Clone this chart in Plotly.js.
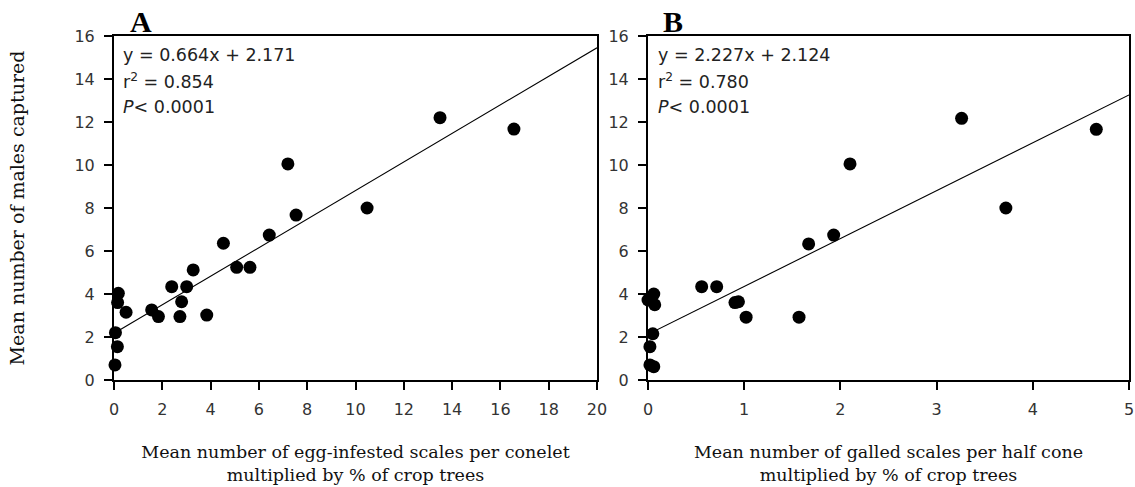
<!DOCTYPE html>
<html>
<head>
<meta charset="utf-8">
<script src="https://cdn.plot.ly/plotly-3.0.1.min.js"></script>
<style>html,body{margin:0;padding:0;background:#fff;}#chart{width:1135px;height:487px;}</style>
</head>
<body>
<div id="chart"></div>
<script>
// Panel A: egg-infested scales per conelet x % crop trees vs males captured
const xA = [0.04, 0.14, 0.06, 0.18, 0.15, 0.5, 1.56, 1.84, 2.39, 2.73, 2.8, 3.01, 3.28, 3.84, 4.53, 5.08, 5.63, 6.43, 7.2, 7.54, 10.48, 13.5, 16.56];
const yA = [0.7, 1.55, 2.2, 4.03, 3.6, 3.15, 3.26, 2.95, 4.34, 2.95, 3.64, 4.34, 5.12, 3.02, 6.36, 5.24, 5.24, 6.74, 10.05, 7.67, 8.0, 12.2, 11.67];
// Panel B: galled scales per half cone x % crop trees vs males captured
const xB = [0.02, 0.06, 0.02, 0.05, 0.07, 0.0, 0.06, 0.558, 0.714, 0.904, 0.94, 1.02, 1.57, 1.67, 1.93, 2.1, 3.26, 3.72, 4.66];
const yB = [0.7, 0.62, 1.55, 2.15, 3.5, 3.72, 4.0, 4.34, 4.34, 3.6, 3.64, 2.92, 2.92, 6.33, 6.74, 10.05, 12.17, 8.0, 11.66];
// Regression fits as printed on the chart
const slopes = [0.664, 2.227];
const intercepts = [2.171, 2.124];
const eqTexts = ["y = 0.664x + 2.171", "y = 2.227x + 2.124"];
const r2Texts = ["r<sup>2</sup> = 0.854", "r<sup>2</sup> = 0.780"];
const pText = "<i>P</i>&lt; 0.0001";
const panelLabels = ["A", "B"];
const xRanges = [[0, 20], [0, 5]];
const xTickVals = [[0, 2, 4, 6, 8, 10, 12, 14, 16, 18, 20], [0, 1, 2, 3, 4, 5]];
const yTickVals = [0, 2, 4, 6, 8, 10, 12, 14, 16];
const xTitles = ["Mean number of egg-infested scales per conelet<br>multiplied by % of crop trees",
                 "Mean number of galled scales per half cone<br>multiplied by % of crop trees"];
const yTitle = "Mean number of males captured";

const W = 1135, H = 487;
const px = v => v / W, py = v => 1 - v / H;

function fitLine(xs, k) {
  const x0 = Math.min(...xs), x1 = xRanges[k][1];
  return {x: [x0, x1], y: [slopes[k] * x0 + intercepts[k], slopes[k] * x1 + intercepts[k]]};
}
const lA = fitLine(xA, 0), lB = fitLine(xB, 1);

const mk = {color: '#000', size: 13, line: {width: 0}};
const traces = [
  {x: xA, y: yA, type: 'scatter', mode: 'markers', marker: mk, cliponaxis: false, xaxis: 'x', yaxis: 'y', hoverinfo: 'x+y'},
  {x: lA.x, y: lA.y, type: 'scatter', mode: 'lines', line: {color: '#000', width: 1.1}, xaxis: 'x', yaxis: 'y'},
  {x: xB, y: yB, type: 'scatter', mode: 'markers', marker: mk, cliponaxis: false, xaxis: 'x2', yaxis: 'y2', hoverinfo: 'x+y'},
  {x: lB.x, y: lB.y, type: 'scatter', mode: 'lines', line: {color: '#000', width: 1.1}, xaxis: 'x2', yaxis: 'y2'}
];

const tickFont = {family: 'DejaVu Sans, sans-serif', size: 16, color: '#333'};
const titleFont = {family: 'DejaVu Serif, serif', size: 17.5, color: '#111'};

function xax(k, dom, anchor) {
  return {
    domain: dom, anchor: anchor, range: xRanges[k], tickvals: xTickVals[k],
    showgrid: false, zeroline: false, showline: true, mirror: true, linecolor: '#000', linewidth: 2,
    ticks: 'outside', ticklen: 8, tickwidth: 2, tickcolor: '#000', tickfont: tickFont, ticklabelstandoff: 6,
    title: {text: xTitles[k], font: titleFont, standoff: 28}, automargin: false, fixedrange: true
  };
}
function yax(dom, anchor, withTitle) {
  const a = {
    domain: dom, anchor: anchor, range: [0, 16], tickvals: yTickVals,
    showgrid: false, zeroline: false, showline: true, mirror: true, linecolor: '#000', linewidth: 2,
    ticks: 'outside', ticklen: 8, tickwidth: 2, tickcolor: '#000', tickfont: tickFont, ticklabelstandoff: 6,
    automargin: false, fixedrange: true
  };
  if (withTitle) a.title = {text: yTitle, font: Object.assign({}, titleFont, {size: 19}), standoff: 45};
  return a;
}

const yDom = [py(380), py(36)];
const annFont = {family: 'DejaVu Sans, sans-serif', size: 17.5, color: '#222'};
const annotations = [];
const eqLeft = [121, 656];
const lblX = [141, 673];
for (let k = 0; k < 2; k++) {
  annotations.push({xref: 'paper', yref: 'paper', x: px(eqLeft[k]), y: py(55), xanchor: 'left', yanchor: 'middle', text: eqTexts[k], showarrow: false, font: annFont});
  annotations.push({xref: 'paper', yref: 'paper', x: px(eqLeft[k]), y: py(81), xanchor: 'left', yanchor: 'middle', text: r2Texts[k], showarrow: false, font: annFont});
  annotations.push({xref: 'paper', yref: 'paper', x: px(eqLeft[k]), y: py(107), xanchor: 'left', yanchor: 'middle', text: pText, showarrow: false, font: annFont});
  annotations.push({xref: 'paper', yref: 'paper', x: px(lblX[k]), y: py(21), xanchor: 'center', yanchor: 'middle', text: '<b>' + panelLabels[k] + '</b>', showarrow: false, font: {family: 'Liberation Serif, serif', size: 30, color: '#000'}});
}

const layout = {
  width: W, height: H, margin: {l: 0, r: 0, t: 0, b: 0},
  paper_bgcolor: '#fff', plot_bgcolor: '#fff', showlegend: false,
  xaxis: xax(0, [px(114), px(597)], 'y'),
  yaxis: yax(yDom, 'x', true),
  xaxis2: xax(1, [px(648), px(1129)], 'y2'),
  yaxis2: yax(yDom, 'x2', false),
  annotations: annotations
};

Plotly.newPlot('chart', traces, layout, {staticPlot: true, displayModeBar: false});
</script>
</body>
</html>
